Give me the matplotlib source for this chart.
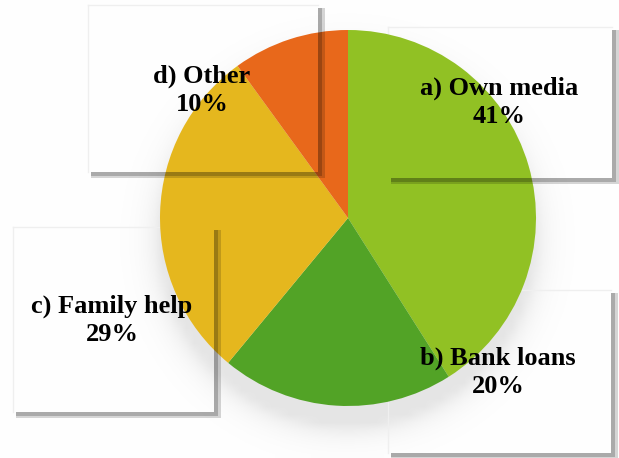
import numpy as np
import matplotlib.pyplot as plt
from matplotlib.patches import Rectangle

W, H = 619, 458

labels = ["a) Own media", "b) Bank loans", "c) Family help", "d) Other"]
shares = [41, 20, 29, 10]
colors = ["#91c124", "#52a326", "#e5b71e", "#e8681b"]

# label box (left, top, right, bottom) in pixel coords, text centre (x, y)
boxes = [(388, 27, 612, 178), (388, 290, 611, 453), (13, 227, 214, 412), (88, 5, 318, 172)]
text_pos = [(499, 102), (498, 372), (112, 320), (202, 90)]

cx, cy, R = 348, 218, 188

fig = plt.figure(figsize=(W / 100, H / 100), dpi=100)
ax = fig.add_axes([0, 0, 1, 1])


def fy(y):
    return H - y


# soft grey halo around the pie
gx, gy = np.meshgrid(np.linspace(0, W, 78), np.linspace(0, H, 58))
d = np.hypot(gx - cx, gy - cy) - R
shade = 1 - 0.10 * np.exp(-np.clip(d, 0, None) / 13)
ax.imshow(np.dstack([shade] * 3), extent=(0, W, H, 0), origin="upper",
          interpolation="bilinear", zorder=0)

ax.pie(shares, colors=colors, startangle=90, counterclock=False,
       center=(cx, fy(cy)), radius=R, frame=True,
       wedgeprops=dict(linewidth=0, zorder=1))

for (l, t, r, b), lab, share, (tx, ty) in zip(boxes, labels, shares, text_pos):
    # faint outline on top and left, kept under the pie
    ax.plot([l, r], [fy(t), fy(t)], color="#efefef", lw=1, zorder=0.5)
    ax.plot([l, l], [fy(t), fy(b)], color="#efefef", lw=1, zorder=0.5)
    # drop shadow on right and bottom
    ax.add_patch(Rectangle((r, fy(b + 6)), 7, b + 6 - t - 3, color="black",
                           alpha=0.16, lw=0, zorder=4))
    ax.add_patch(Rectangle((r, fy(b + 4)), 4, b + 4 - t - 3, color="black",
                           alpha=0.2, lw=0, zorder=4))
    ax.add_patch(Rectangle((l + 3, fy(b + 6)), r - l - 3, 6, color="black",
                           alpha=0.16, lw=0, zorder=4))
    ax.add_patch(Rectangle((l + 3, fy(b + 4)), r - l - 3, 4, color="black",
                           alpha=0.2, lw=0, zorder=4))
    ax.text(tx, fy(ty), f"{lab}\n{share}%", ha="center", va="center",
            fontsize=19, fontweight="bold", family="Liberation Serif",
            linespacing=1.3, zorder=5)

ax.set_xlim(0, W)
ax.set_ylim(0, H)
ax.set_aspect("auto")
ax.axis("off")

fig.savefig("out.png", dpi=100)
